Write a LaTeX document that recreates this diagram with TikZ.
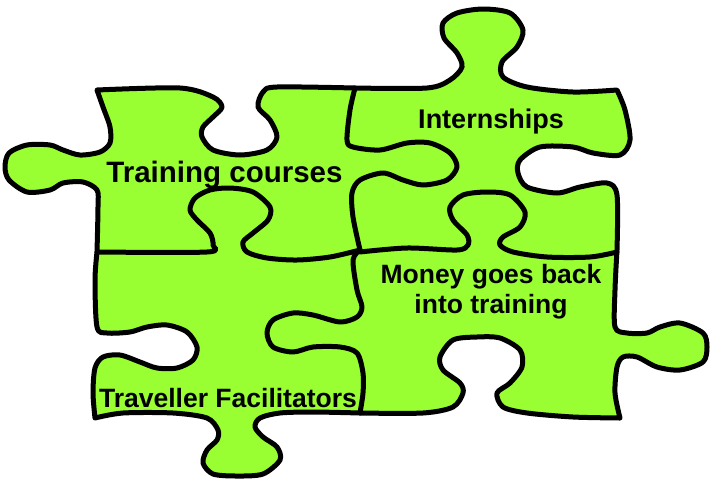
\documentclass[tikz,border=0pt]{standalone}
\usepackage{fontspec}
\setmainfont{Liberation Sans}
\definecolor{piece}{HTML}{99FF33}
\begin{document}
\begin{tikzpicture}[x=1pt,y=-1pt,
  edge/.style={line width=5pt,line join=round,line cap=round,draw=black},
  lbl/.style={anchor=base,font=\fontsize{26.5}{30}\selectfont\bfseries,inner sep=0pt,align=center,text=black}]
\useasboundingbox (0,0) rectangle (712,480);
% outer outline of the four pieces
\path[fill=piece,edge]
 plot[smooth] coordinates {(97,90) (180,88) (213,97) (222,107) (213,117) (203,127) (202,137) (213,150) (240,155) (267,150) (277,137) (270,120) (258,107) (263,92) (277,87) (355,88)}
 -- plot[smooth] coordinates {(355,88) (427,88) (450,80) (462,67) (457,53) (444,38) (443,23) (457,13) (483,9) (510,13) (523,30) (517,47) (502,62) (503,77) (527,87) (573,92) (617,90)}
 -- plot[smooth] coordinates {(617,90) (625,110) (630,140) (620,155) (593,153) (573,147) (540,147) (520,160) (518,173) (527,187) (557,193) (580,187) (607,183) (617,195) (617,250)}
 -- plot[smooth] coordinates {(617,250) (615,290) (615,327) (627,333) (647,333) (660,327) (680,323) (703,333) (707,347) (703,362) (680,370) (657,367) (637,357) (623,357) (617,367) (615,393) (620,418)}
 -- plot[smooth] coordinates {(620,418) (573,417) (527,413) (503,407) (497,393) (510,383) (522,367) (520,350) (500,338) (477,337) (453,340) (440,357) (443,370) (460,383) (463,393) (453,407) (423,413) (360,413)}
 -- plot[smooth] coordinates {(360,413) (313,412) (280,413) (260,418) (255,427) (263,437) (277,447) (280,460) (263,474) (237,476) (213,474) (203,463) (207,450) (217,440) (218,430) (207,418) (173,413) (123,413) (95,418)}
 -- plot[smooth] coordinates {(95,418) (93,393) (95,368) (103,357) (120,355) (140,362) (157,368) (177,368) (193,360) (197,347) (187,332) (167,325) (147,327) (130,332) (107,333) (97,327) (95,280) (97,252)}
 -- plot[smooth] coordinates {(97,252) (98,207) (97,190) (83,182) (63,183) (50,190) (27,192) (9,180) (5,167) (9,153) (27,145) (50,145) (63,150) (80,155) (100,152) (110,143) (110,127) (103,107) (97,90)}
 -- cycle;
% inner seams
\draw[edge] plot[smooth] coordinates {(355,88) (350,110) (347,140) (353,147) (380,150) (407,143) (430,143) (450,153) (457,167) (447,180) (423,185) (403,180) (383,173) (360,180) (352,193) (353,217) (360,250)};
\draw[edge] plot[smooth] coordinates {(97,252) (207,252) (213,245) (210,233) (197,220) (190,210) (195,198) (210,190) (230,188) (253,192) (270,207) (268,220) (253,233) (243,242) (247,252) (267,258) (297,260) (330,257) (360,250)};
\draw[edge] plot[smooth] coordinates {(360,252) (407,248) (457,250) (468,245) (467,235) (453,220) (450,207) (463,195) (487,192) (510,195) (525,212) (520,227) (503,237) (500,245) (513,252) (547,257) (590,257) (617,252)};
\draw[edge] plot[smooth] coordinates {(360,250) (353,260) (357,290) (362,307) (357,317) (340,322) (313,315) (293,313) (273,320) (267,333) (273,347) (293,352) (313,347) (340,347) (357,353) (363,373) (363,393) (360,413)};
% labels
\node[lbl,font=\fontsize{29.5}{33}\selectfont\bfseries] (tc) at (224.5,182) {Training courses};
\node[lbl,font=\fontsize{27}{31}\selectfont\bfseries] (in) at (491,128) {Internships};
\node[lbl] (mo) at (491,313) {Money goes back\\into training};
\node[lbl] (tf) at (228,407) {Traveller Facilitators};
\end{tikzpicture}
\end{document}
